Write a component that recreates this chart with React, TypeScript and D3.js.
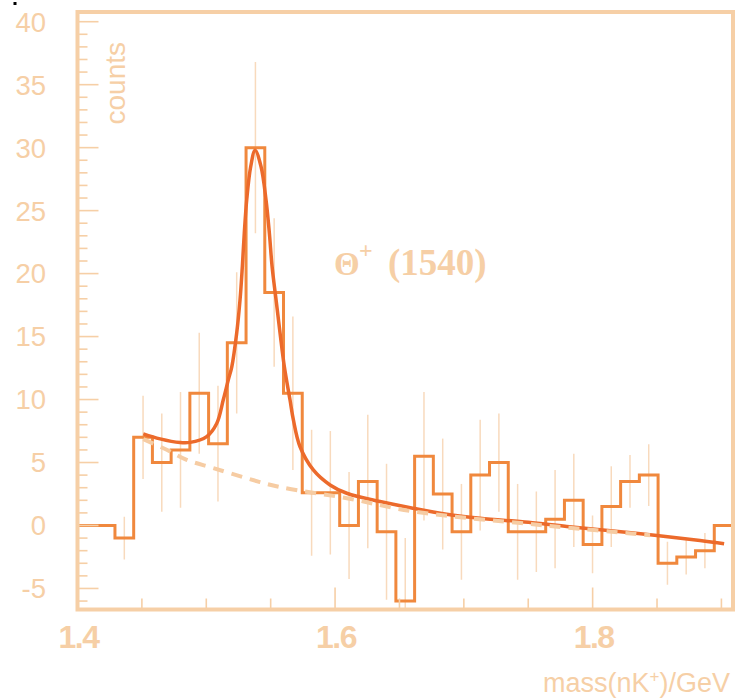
import React, { useEffect, useRef } from "react";
import * as d3 from "d3";

// histogram: 35 bins starting at 1.4 GeV
const binValues = [
  0, 0, -1, 7, 5, 6, 10.5, 6.5, 14.5, 30, 18.5, 10.5, 2.6, 2.6, 0, 3.5, -0.5, -6,
  5.5, 2.5, -0.5, 4, 5, -0.5, -0.5, 0.5, 2, -1.5, 1.5, 3.5, 4, -3, -2.5, -2, 0,
];
const binErrors = [
  0, 0, 1.7, 3.3, 3.9, 4.6, 4.8, 4.6, 5.6, 6.8, 5.9, 6.1, 5.0, 4.9, 4.25, 5.3, 5.4, 5.0,
  5.1, 4.4, 3.8, 4.4, 3.9, 3.8, 3.2, 3.9, 3.7, 2.3, 3.2, 2.1, 2.45, 1.7, 1.4, 1.4, 0,
];

// fit curve (signal + background)
const fitMass = [
  1.4511, 1.4641, 1.4796, 1.4874, 1.5003, 1.5081, 1.5132, 1.5171, 1.5198, 1.5236,
  1.5262, 1.528, 1.5295, 1.5314, 1.5345, 1.5379, 1.5425, 1.5464, 1.549, 1.5511,
  1.5542, 1.5573, 1.5606, 1.565, 1.5676, 1.5728, 1.5831, 1.5961, 1.6091, 1.6349,
  1.6608, 1.6867, 1.7126, 1.7501, 1.7799, 1.8317, 1.8834, 1.9021,
];
const fitCounts = [
  7.28, 6.88, 6.59, 6.6, 7.06, 8.1, 9.98, 11.56, 12.6, 15.27,
  17.91, 20.56, 23.2, 25.85, 28.5, 29.8, 28.5, 25.85, 23.2, 20.56,
  17.91, 15.27, 12.62, 9.98, 8.4, 6.25, 4.41, 3.22, 2.56, 1.9,
  1.37, 0.9, 0.58, 0.25, -0.08, -0.6, -1.19, -1.45,
];

// background only (dashed)
const bgMass = [1.4511, 1.4693, 1.4848, 1.5055, 1.5327, 1.5573, 1.6091, 1.6608, 1.7501, 1.7799, 1.8317, 1.8446];
const bgCounts = [6.86, 6.01, 5.21, 4.56, 3.71, 3.05, 2.17, 1.11, 0.13, -0.16, -0.66, -0.78];

const yTickLabels = [-5, 0, 5, 10, 15, 20, 25, 30, 35, 40];
const xTickLabels = [1.4, 1.6, 1.8];

const App = () => {
  const svgRef = useRef<SVGSVGElement>(null);

  useEffect(() => {
    const svg = d3.select(svgRef.current);
    svg.selectAll("*").remove();

    const light = "#f6cfa6";
    const errColor = "#f8dabd";
    const histColor = "#f0883d";
    const fitColor = "#ec6a2b";

    const xMin = 1.4,
      xMax = 1.909;
    const binWidth = (xMax - xMin) / binValues.length;

    const x = d3.scaleLinear().domain([xMin, xMax]).range([77.5, 733]);
    const y = d3.scaleLinear().domain([-6.67, 40.77]).range([609.5, 12]);

    svg
      .append("defs")
      .append("clipPath")
      .attr("id", "plotClip")
      .append("rect")
      .attr("x", x(xMin))
      .attr("y", y(40.77))
      .attr("width", x(xMax) - x(xMin))
      .attr("height", y(-6.67) - y(40.77));

    const plot = svg.append("g").attr("clip-path", "url(#plotClip)");

    // error bars
    const errData = binValues
      .map((v, i) => ({ center: xMin + (i + 0.5) * binWidth, v, e: binErrors[i] }))
      .filter((d) => d.e > 0);
    plot
      .selectAll(".err")
      .data(errData)
      .enter()
      .append("line")
      .attr("x1", (d) => x(d.center))
      .attr("x2", (d) => x(d.center))
      .attr("y1", (d) => y(d.v - d.e))
      .attr("y2", (d) => y(d.v + d.e))
      .attr("stroke", errColor)
      .attr("stroke-width", 1.5);

    // histogram steps
    const steps: [number, number][] = binValues.map((v, i) => [xMin + i * binWidth, v]);
    steps.push([xMax, binValues[binValues.length - 1]]);
    plot
      .append("path")
      .attr("d", d3.line<[number, number]>().x((d) => x(d[0])).y((d) => y(d[1])).curve(d3.curveStepAfter)(steps))
      .attr("fill", "none")
      .attr("stroke", histColor)
      .attr("stroke-width", 3);

    // fit
    const fitLine = d3
      .line<number>()
      .x((d) => x(d))
      .y((d, i) => y(fitCounts[i]))
      .curve(d3.curveCatmullRom.alpha(0.5));
    plot
      .append("path")
      .attr("d", fitLine(fitMass))
      .attr("fill", "none")
      .attr("stroke", fitColor)
      .attr("stroke-width", 3.5);

    // background
    const bgLine = d3
      .line<number>()
      .x((d) => x(d))
      .y((d, i) => y(bgCounts[i]))
      .curve(d3.curveCatmullRom.alpha(0.5));
    plot
      .append("path")
      .attr("d", bgLine(bgMass))
      .attr("fill", "none")
      .attr("stroke", "#f6cca3")
      .attr("stroke-width", 4)
      .attr("stroke-dasharray", "11 8");

    // frame
    svg
      .append("rect")
      .attr("x", x(xMin))
      .attr("y", y(40.77))
      .attr("width", x(xMax) - x(xMin))
      .attr("height", y(-6.67) - y(40.77))
      .attr("fill", "none")
      .attr("stroke", light)
      .attr("stroke-width", 4);

    // y ticks
    const yMinor = d3.range(-6, 41, 1);
    svg
      .selectAll(".ytick")
      .data(yMinor)
      .enter()
      .append("line")
      .attr("x1", x(xMin))
      .attr("x2", (d) => x(xMin) + (d % 5 === 0 ? 21 : 10))
      .attr("y1", (d) => y(d))
      .attr("y2", (d) => y(d))
      .attr("stroke", light)
      .attr("stroke-width", 1.6);

    svg
      .selectAll(".ylabel")
      .data(yTickLabels)
      .enter()
      .append("text")
      .attr("x", 46)
      .attr("y", (d) => y(d))
      .attr("dy", "0.36em")
      .attr("text-anchor", "end")
      .attr("fill", light)
      .attr("font-family", "Liberation Sans, Arial, sans-serif")
      .attr("font-size", 27.5)
      .text((d) => d);

    // x ticks
    const xMinor = d3.range(1.45, 1.905, 0.05);
    svg
      .selectAll(".xtick")
      .data(xMinor)
      .enter()
      .append("line")
      .attr("x1", (d) => x(d))
      .attr("x2", (d) => x(d))
      .attr("y1", y(-6.67))
      .attr("y2", (d) => y(-6.67) - (xTickLabels.some((t) => Math.abs(t - d) < 1e-6) ? 22 : 11))
      .attr("stroke", light)
      .attr("stroke-width", 1.6);

    svg
      .selectAll(".xlabel")
      .data(xTickLabels)
      .enter()
      .append("text")
      .attr("x", (d) => x(d) + 1)
      .attr("y", 648)
      .attr("text-anchor", "middle")
      .attr("fill", light)
      .attr("font-family", "Liberation Sans, Arial, sans-serif")
      .attr("font-weight", "bold")
      .attr("font-size", 32)
      .attr("letter-spacing", -1.5)
      .text((d) => d.toFixed(1));

    // axis titles
    svg
      .append("text")
      .attr("transform", "translate(125, 42) rotate(-90)")
      .attr("text-anchor", "end")
      .attr("fill", light)
      .attr("font-family", "Liberation Sans, Arial, sans-serif")
      .attr("font-size", 28)
      .text("counts");

    const xt = svg
      .append("text")
      .attr("x", 730)
      .attr("y", 692)
      .attr("text-anchor", "end")
      .attr("fill", light)
      .attr("font-family", "Liberation Sans, Arial, sans-serif")
      .attr("font-size", 27);
    xt.append("tspan").text("mass(nK");
    xt.append("tspan").attr("font-size", 17).attr("dy", -10).text("+");
    xt.append("tspan").attr("dy", 10).text(")/GeV");

    // particle label
    svg
      .append("text")
      .attr("x", 334)
      .attr("y", 275)
      .attr("fill", light)
      .attr("font-family", "Liberation Serif, Times New Roman, serif")
      .attr("font-weight", "bold")
      .attr("font-size", 33)
      .text("Θ");
    svg
      .append("text")
      .attr("x", 359)
      .attr("y", 258)
      .attr("fill", light)
      .attr("font-family", "Liberation Serif, Times New Roman, serif")
      .attr("font-weight", "bold")
      .attr("font-size", 24)
      .text("+");
    svg
      .append("text")
      .attr("x", 388)
      .attr("y", 275)
      .attr("fill", light)
      .attr("font-family", "Liberation Serif, Times New Roman, serif")
      .attr("font-weight", "bold")
      .attr("font-size", 37)
      .text("(1540)");

    // stray mark top-left
    svg.append("rect").attr("x", 13.5).attr("y", 2).attr("width", 3).attr("height", 3).attr("fill", "#000");
  }, []);

  return <svg ref={svgRef} width={737} height={699} style={{ position: "absolute", left: 0, top: 0 }} />;
};

export default App;
